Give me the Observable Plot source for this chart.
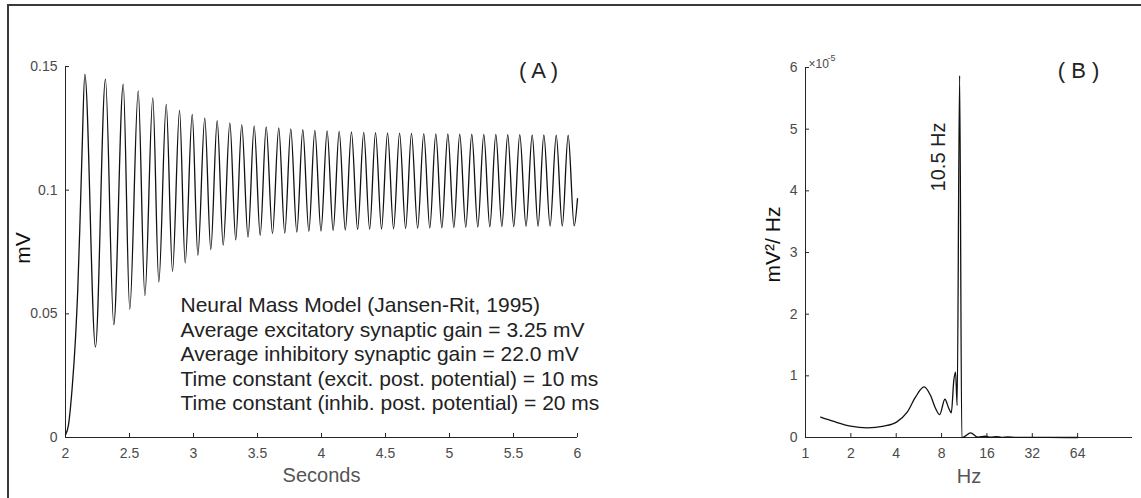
<!DOCTYPE html>
<html><head><meta charset="utf-8">
<script src="https://cdn.jsdelivr.net/npm/d3@7"></script>
<script src="https://cdn.jsdelivr.net/npm/@observablehq/plot@0.6"></script>
<style>
body{margin:0;background:#fff;}
#wrap{position:relative;width:1141px;height:498px;overflow:hidden;font-family:"Liberation Sans",Arial,sans-serif;}
#frame{position:absolute;left:7px;top:4px;width:1300px;height:700px;border-left:2px solid #3a3a3a;border-top:2px solid #3a3a3a;}
.panel{position:absolute;top:0;}
</style></head><body>
<div id="wrap"><div id="frame"></div><div id="a" class="panel" style="left:0px"></div><div id="b" class="panel" style="left:700px"></div></div>
<script>
// ---------- Panel A data (mV vs seconds) ----------
const riseTimes  = [2.000, 2.023, 2.052, 2.078, 2.096, 2.112, 2.129];
const riseValues = [0.001, 0.005, 0.020, 0.040, 0.060, 0.085, 0.115];
const peakTimes = [2.151, 2.312, 2.451, 2.568, 2.682, 2.787, 2.891, 2.990, 3.088, 3.185,
  3.284, 3.377, 3.474, 3.568, 3.666, 3.760, 3.854, 3.948, 4.044, 4.138,
  4.234, 4.330, 4.422, 4.516, 4.610, 4.703, 4.799, 4.893, 4.987, 5.080,
  5.174, 5.268, 5.362, 5.455, 5.549, 5.646, 5.737, 5.834, 5.927];
const peakValues = [0.1469, 0.1449, 0.1429, 0.1401, 0.1373, 0.1347, 0.1323, 0.1306, 0.1291, 0.1281,
  0.1272, 0.1265, 0.1260, 0.1256, 0.1252, 0.1248, 0.1245, 0.1242, 0.1240, 0.1238,
  0.1236, 0.1234, 0.1233, 0.1232, 0.1231, 0.1230, 0.1229, 0.1228, 0.1227, 0.1226,
  0.1226, 0.1225, 0.1225, 0.1224, 0.1224, 0.1223, 0.1223, 0.1222, 0.1222];
const troughTimes = [2.234, 2.377, 2.502, 2.620, 2.729, 2.836, 2.935, 3.034, 3.135, 3.232,
  3.330, 3.426, 3.521, 3.617, 3.713, 3.807, 3.901, 3.996, 4.091, 4.186,
  4.282, 4.376, 4.469, 4.563, 4.657, 4.751, 4.846, 4.940, 5.034, 5.127,
  5.221, 5.315, 5.409, 5.502, 5.598, 5.692, 5.786, 5.881, 5.974];
const troughValues = [0.0365, 0.0456, 0.0518, 0.0574, 0.0628, 0.0672, 0.0706, 0.0737, 0.0760, 0.0778,
  0.0799, 0.0810, 0.0817, 0.0824, 0.0826, 0.0830, 0.0833, 0.0835, 0.0837, 0.0839,
  0.0841, 0.0842, 0.0843, 0.0844, 0.0845, 0.0846, 0.0847, 0.0848, 0.0849, 0.0850,
  0.0851, 0.0852, 0.0853, 0.0853, 0.0854, 0.0854, 0.0855, 0.0855, 0.0856];
const endTimes = [6.000];
const endValues = [0.0966];
const xTicksA = [2, 2.5, 3, 3.5, 4, 4.5, 5, 5.5, 6];
const xTickLabelsA = ["2", "2.5", "3", "3.5", "4", "4.5", "5", "5.5", "6"];
const yTicksA = [0, 0.05, 0.1, 0.15];
const yTickLabelsA = ["0", "0.05", "0.1", "0.15"];
const annotationLines = [
  "Neural Mass Model (Jansen-Rit, 1995)",
  "Average excitatory synaptic gain = 3.25 mV",
  "Average inhibitory synaptic gain = 22.0 mV",
  "Time constant (excit. post. potential) = 10 ms",
  "Time constant (inhib. post. potential) = 20 ms"
];

// ---------- Panel B data (power spectrum, units of 1e-5 mV^2/Hz) ----------
const freqs = [1.26, 1.54, 1.99, 2.57, 3.31, 4.02, 4.73, 5.37, 6.12, 6.76,
  7.30, 7.77, 8.42, 8.94, 9.28, 9.65, 9.91, 10.15, 10.54, 10.90,
  11.2, 12.47, 13.9, 15.7, 17.0, 18.5, 20.0, 22.0, 25.0, 30.0, 40.0, 64.0];
const power = [0.33, 0.26, 0.185, 0.157, 0.185, 0.25, 0.41, 0.655, 0.82, 0.68,
  0.47, 0.37, 0.62, 0.47, 0.40, 0.93, 1.06, 0.52, 5.87, 0.0,
  0.005, 0.075, 0.005, 0.02, 0.004, 0.015, 0.003, 0.01, 0.002, 0.003, 0.001, 0.0];
const xTicksB = [1, 2, 4, 8, 16, 32, 64];
const xTickLabelsB = ["1", "2", "4", "8", "16", "32", "64"];
const yTicksB = [0, 1, 2, 3, 4, 5, 6];
const yTickLabelsB = ["0", "1", "2", "3", "4", "5", "6"];

// ---------- build tables ----------
const seriesA = [];
riseTimes.forEach((t, i) => seriesA.push({t, v: riseValues[i]}));
peakTimes.forEach((t, i) => seriesA.push({t, v: peakValues[i]}));
troughTimes.forEach((t, i) => seriesA.push({t, v: troughValues[i]}));
endTimes.forEach((t, i) => seriesA.push({t, v: endValues[i]}));
seriesA.sort((a, b) => a.t - b.t);
const spectrum = freqs.map((f, i) => ({f, p: power[i]}));

const FONT = "Liberation Sans, Arial, Helvetica, sans-serif";
const TICKC = "#4a4a4a";
const AXC = "#262626";
// inward tick marks: regular axis ticks shifted into the frame, no labels
const inwardX = (ticks) => Plot.axisX({ticks, tickSize: 4, dy: -4, stroke: AXC, tickFormat: () => "", label: null});
const inwardY = (ticks) => Plot.axisY({ticks, tickSize: 4, dx: 4, stroke: AXC, tickFormat: () => "", label: null});

const plotA = Plot.plot({
  width: 600, height: 498,
  marginLeft: 65, marginRight: 23, marginTop: 66, marginBottom: 61,
  style: {fontFamily: FONT, background: "transparent", overflow: "visible"},
  x: {domain: [2, 6]},
  y: {domain: [0, 0.15]},
  marks: [
    Plot.axisX({ticks: xTicksA, tickSize: 0, tickPadding: 11, color: TICKC, fontSize: 14,
      tickFormat: d => xTickLabelsA[xTicksA.indexOf(d)], label: null}),
    Plot.axisY({ticks: yTicksA, tickSize: 0, tickPadding: 8, color: TICKC, fontSize: 14,
      tickFormat: d => yTickLabelsA[yTicksA.indexOf(d)], label: null}),
    inwardX(xTicksA),
    inwardY(yTicksA),
    Plot.ruleY([0], {stroke: AXC}),
    Plot.ruleX([2], {stroke: AXC}),
    Plot.line(seriesA, {x: "t", y: "v", curve: "monotone-x", stroke: "#111", strokeWidth: 1.3}),
    Plot.text([annotationLines.join("\n")], {frameAnchor: "top-left", dx: 115, dy: 228, textAnchor: "start",
      lineAnchor: "top", lineHeight: 1.17, fontSize: 21, fill: "#222"}),
    Plot.text(["( A )"], {frameAnchor: "top-left", dx: 473, dy: -4, textAnchor: "middle", fontSize: 22, fill: "#222"}),
    Plot.text(["mV"], {frameAnchor: "left", dx: -42, dy: -4, rotate: -90, textAnchor: "middle", fontSize: 21, fill: "#111"}),
    Plot.text(["Seconds"], {frameAnchor: "bottom", dy: 44, textAnchor: "middle", fontSize: 20, fill: "#555"})
  ]
});
document.getElementById("a").appendChild(plotA);

const plotB = Plot.plot({
  width: 441, height: 498,
  marginLeft: 105, marginRight: 9, marginTop: 67, marginBottom: 61,
  style: {fontFamily: FONT, background: "transparent", overflow: "visible"},
  x: {type: "log", base: 2, domain: [1, 148]},
  y: {domain: [0, 6]},
  marks: [
    Plot.axisX({ticks: xTicksB, tickSize: 0, tickPadding: 11, color: TICKC, fontSize: 14,
      tickFormat: d => xTickLabelsB[xTicksB.indexOf(d)], label: null}),
    Plot.axisY({ticks: yTicksB, tickSize: 0, tickPadding: 8, color: TICKC, fontSize: 14,
      tickFormat: d => yTickLabelsB[yTicksB.indexOf(d)], label: null}),
    inwardX(xTicksB),
    inwardY(yTicksB),
    Plot.ruleY([0], {stroke: AXC}),
    Plot.ruleX([1], {stroke: AXC}),
    Plot.line(spectrum, {x: "f", y: "p", curve: "monotone-x", stroke: "#111", strokeWidth: 1.3}),
    Plot.text(["×10"], {frameAnchor: "top-left", dx: 3, dy: -8, textAnchor: "start", fontSize: 12, fill: TICKC}),
    Plot.text(["-5"], {frameAnchor: "top-left", dx: 22, dy: -13, textAnchor: "start", fontSize: 9, fill: TICKC}),
    Plot.text(["10.5 Hz"], {x: [7.65], y: [4.55], rotate: -90, textAnchor: "middle", fontSize: 20, fill: "#222"}),
    Plot.text(["( B )"], {frameAnchor: "top-left", dx: 273, dy: -5, textAnchor: "middle", fontSize: 22, fill: "#222"}),
    Plot.text(["mV²/ Hz"], {frameAnchor: "left", dx: -32, dy: -8, rotate: -90, textAnchor: "middle", fontSize: 21, fill: "#111"}),
    Plot.text(["Hz"], {frameAnchor: "bottom", dy: 45, textAnchor: "middle", fontSize: 20, fill: "#555"})
  ]
});
document.getElementById("b").appendChild(plotB);
</script>
</body></html>
